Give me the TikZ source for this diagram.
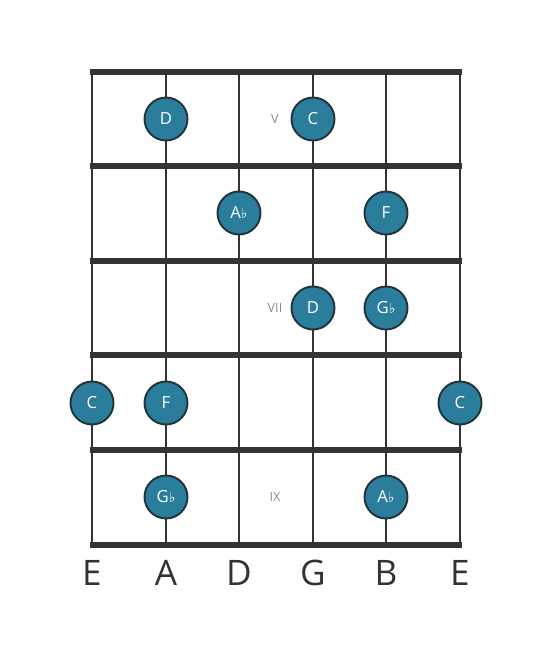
\documentclass[tikz,border=0pt]{standalone}
\usepackage{fontspec}
\setmainfont{Open Sans}
\newfontfamily\symfont{DejaVu Sans}
\newcommand{\flt}{{\symfont\footnotesize\raisebox{0.1ex}{♭}}}
\definecolor{notefill}{HTML}{2A7E9C}
\definecolor{noteline}{HTML}{22333B}
\definecolor{gridline}{HTML}{333333}
\definecolor{posgrey}{HTML}{8A8A8A}
\tikzset{
  note/.style={circle,fill=notefill,draw=noteline,line width=1.1pt,
    minimum size=0.86cm,inner sep=0pt,text=white,font=\fontsize{9.5}{9.5}\selectfont},
  fretpos/.style={text=posgrey,font=\fontsize{7.2}{7.2}\selectfont},
  strname/.style={text=gridline,font=\fontsize{20}{20}\selectfont}
}
\begin{document}
\begin{tikzpicture}[x=0.02cm,y=-0.02cm]
		\useasboundingbox (0,0) rectangle (553,656);
		% strings
		\draw[gridline,line width=1.7pt] (92,72) -- (92,545);
		\draw[gridline,line width=1.7pt] (166,72) -- (166,545);
		\draw[gridline,line width=1.7pt] (239,72) -- (239,545);
		\draw[gridline,line width=1.7pt] (313,72) -- (313,545);
		\draw[gridline,line width=1.7pt] (386,72) -- (386,545);
		\draw[gridline,line width=1.7pt] (460,72) -- (460,545);
		% frets
		\draw[gridline,line width=3pt] (90,72) -- (462,72);
		\draw[gridline,line width=3pt] (90,166) -- (462,166);
		\draw[gridline,line width=3pt] (90,261) -- (462,261);
		\draw[gridline,line width=3pt] (90,355) -- (462,355);
		\draw[gridline,line width=3pt] (90,450) -- (462,450);
		\draw[gridline,line width=3pt] (90,545) -- (462,545);

		% position marks
		\node[fretpos] (posV) at (275,119) {V};
		\node[fretpos] (posVII) at (275,308) {VII};
		\node[fretpos] (posIX) at (275,497) {IX};

		% notes
		\node[note] (d1) at (166,119) {D};
		\node[note] (c1) at (313,119) {C};
		\node[note] (ab1) at (239,213) {A\flt};
		\node[note] (f1) at (386,213) {F};
		\node[note] (d2) at (313,308) {D};
		\node[note] (gb1) at (386,308) {G\flt};
		\node[note] (c2) at (92,403) {C};
		\node[note] (f2) at (166,403) {F};
		\node[note] (c3) at (460,403) {C};
		\node[note] (gb2) at (166,497) {G\flt};
		\node[note] (ab2) at (386,497) {A\flt};

		% string names
		\node[strname] (sE) at (92,573) {E};
		\node[strname] (sA) at (166,573) {A};
		\node[strname] (sD) at (239,573) {D};
		\node[strname] (sG) at (313,573) {G};
		\node[strname] (sB) at (386,573) {B};
		\node[strname] (se) at (460,573) {E};
	\end{tikzpicture}
\end{document}
